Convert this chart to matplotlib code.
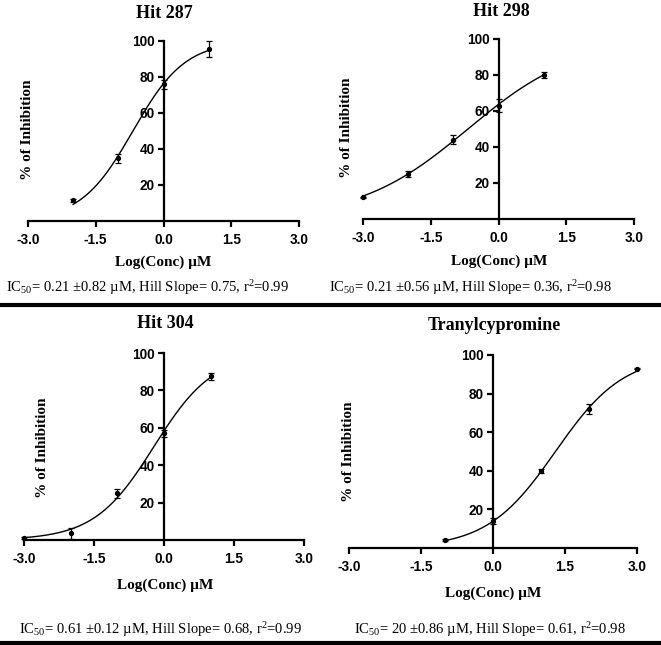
import numpy as np
import matplotlib.pyplot as plt
from matplotlib.lines import Line2D

plt.rcParams['mathtext.fontset'] = 'custom'
plt.rcParams['mathtext.rm'] = 'Liberation Serif'
plt.rcParams['mathtext.it'] = 'Liberation Serif:italic'

# data (log conc in uM, % inhibition, SD)
titles = ['Hit 287', 'Hit 298', 'Hit 304', 'Tranylcypromine']

x287 = [-2, -1, 0, 1]
y287 = [11.5, 35, 76, 95.5]
e287 = [1, 2.5, 2.5, 4.5]

x298 = [-3, -2, -1, 0, 1]
y298 = [12, 25, 44, 63, 80]
e298 = [0.5, 1.5, 2.5, 3.5, 1.5]

x304 = [-3, -2, -1, 0, 1]
y304 = [1, 3.5, 25, 57, 87.5]
e304 = [0.5, 3, 2.5, 2, 2]

xtcp = [-1, 0, 1, 2, 3]
ytcp = [4, 14, 40, 72, 93]
etcp = [0.5, 1.5, 1, 2.5, 0.5]

# fit results as reported (IC50 in uM, Hill slope)
ic50 = [0.21, 0.21, 0.61, 20]
hill = [0.75, 0.36, 0.68, 0.61]
ic50_err = ['0.82', '0.56', '0.12', '0.86']
r2 = ['0.99', '0.98', '0.99', '0.98']

series = [(x287, y287, e287), (x298, y298, e298), (x304, y304, e304), (xtcp, ytcp, etcp)]

W, H = 661, 645
fig = plt.figure(figsize=(W / 100, H / 100), dpi=100)

# axes boxes in pixels: left, right, top(100), bottom(0)
boxes = [(28, 299, 41, 221), (363, 634, 39, 219), (24, 304, 353, 540), (349, 637, 355, 548)]
title_pos = [(164, 13), (501, 12), (165, 323), (494, 325)]
xlab_pos = [(163, 262), (499, 261), (165, 585), (493, 593)]
ylab_pos = [(28, 130), (346, 128), (43, 448), (348, 452)]
note_pos = [(147, 288), (470, 288), (160, 630), (490, 630)]

serif_b = dict(family='Liberation Serif', weight='bold')

for i, (xs, ys, es) in enumerate(series):
    l, r, t, b = boxes[i]
    ax = fig.add_axes([l / W, 1 - b / H, (r - l) / W, (b - t) / H])
    ax.set_xlim(-3, 3)
    ax.set_ylim(0, 100)
    ax.spines['top'].set_visible(False)
    ax.spines['right'].set_visible(False)
    ax.spines['left'].set_position(('data', 0))
    for s in ('left', 'bottom'):
        ax.spines[s].set_linewidth(1.6)
    ax.set_xticks([-3, -1.5, 0, 1.5, 3])
    ax.set_xticklabels(['-3.0', '-1.5', '0.0', '1.5', '3.0'])
    ax.set_yticks([20, 40, 60, 80, 100])
    ax.tick_params(direction='out', length=4.5, width=1.6, pad=2)
    ax.tick_params(axis='x', pad=4)
    for lab in ax.get_xticklabels() + ax.get_yticklabels():
        lab.set_family('Liberation Sans')
        lab.set_weight('bold')
        lab.set_fontsize(9.8)
    ax.patch.set_alpha(0)

    # fitted curve from reported parameters
    xc = np.linspace(min(xs), max(xs), 200)
    yc = 100 / (1 + 10 ** ((np.log10(ic50[i]) - xc) * hill[i]))
    ax.plot(xc, yc, color='black', lw=1.0, clip_on=False, zorder=3)
    ax.errorbar(xs, ys, yerr=es, fmt='o', color='black', ms=2.8, elinewidth=0.9,
                capsize=2, capthick=0.9, clip_on=False, zorder=4)

    fig.text(title_pos[i][0] / W, 1 - title_pos[i][1] / H, titles[i], ha='center', va='center',
             fontsize=13, **serif_b)
    fig.text(xlab_pos[i][0] / W, 1 - xlab_pos[i][1] / H, 'Log(Conc) µM', ha='center', va='center',
             fontsize=11, **serif_b)
    fig.text(ylab_pos[i][0] / W, 1 - ylab_pos[i][1] / H, '% of Inhibition', ha='center', va='center',
             rotation=90, fontsize=11, **serif_b)
    ic = f'{ic50[i]:g}'
    note = f'IC$_{{50}}$= {ic} ±{ic50_err[i]} µM, Hill Slope= {hill[i]:.2f}, r$^{{2}}$={r2[i]}'
    fig.text(note_pos[i][0] / W, 1 - note_pos[i][1] / H, note, ha='center', va='center',
             fontsize=10.5, family='Liberation Serif')

# separator lines
fig.add_artist(Line2D([0, 1], [1 - 305 / H, 1 - 305 / H], color='black', lw=3))
fig.add_artist(Line2D([0, 1], [1 - 643 / H, 1 - 643 / H], color='black', lw=3))

fig.savefig('out.png', dpi=100)
